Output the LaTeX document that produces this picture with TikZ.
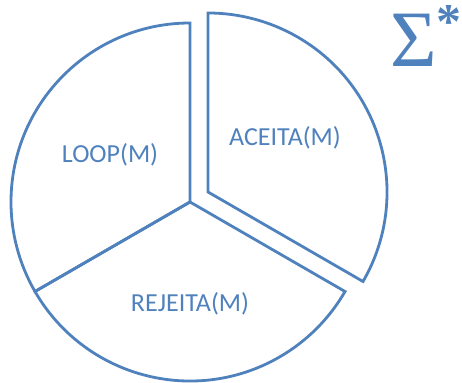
\documentclass[tikz,border=0pt]{standalone}
\usepackage{fontspec}
\setmainfont{Carlito}
\newfontfamily\sigmafont{Liberation Serif}
\definecolor{pieblue}{HTML}{4F81BD}
\begin{document}
\begin{tikzpicture}[x=1pt,y=1pt,
  sector/.style={draw=pieblue,line width=2.8pt,line join=miter},
  lbl/.style={text=pieblue,font=\fontsize{26}{28}\selectfont,inner sep=0pt}]
\useasboundingbox (0,0) rectangle (462,382);
% main centre and exploded centre (pixel y flipped: y = 382 - py)
\coordinate (c) at (190,180);
\coordinate (c2) at (208,190);
% LOOP sector (90 to 210 deg)
\draw[sector] (c) -- ++(0,179) arc[start angle=90,end angle=210,radius=179] -- cycle;
% REJEITA sector (210 to 330 deg)
\draw[sector] (c) -- ++(-155.02,-89.5) arc[start angle=210,end angle=330,radius=179] -- cycle;
% ACEITA sector (-30 to 90 deg), exploded
\draw[sector] (c2) -- ++(155.02,-89.5) arc[start angle=-30,end angle=90,radius=179] -- cycle;
\node[lbl] (loop) at (110,227) {LOOP(M)};
\node[lbl] (aceita) at (285,244) {ACEITA(M)};
\node[lbl] (rejeita) at (190,78) {REJEITA(M)};
\node[text=pieblue,inner sep=0pt,anchor=base west] (sigma) at (390,315) {\sigmafont\fontsize{80}{80}\selectfont Σ\raisebox{0.36em}{\bfseries\fontsize{50}{50}\selectfont *}};
\end{tikzpicture}
\end{document}
